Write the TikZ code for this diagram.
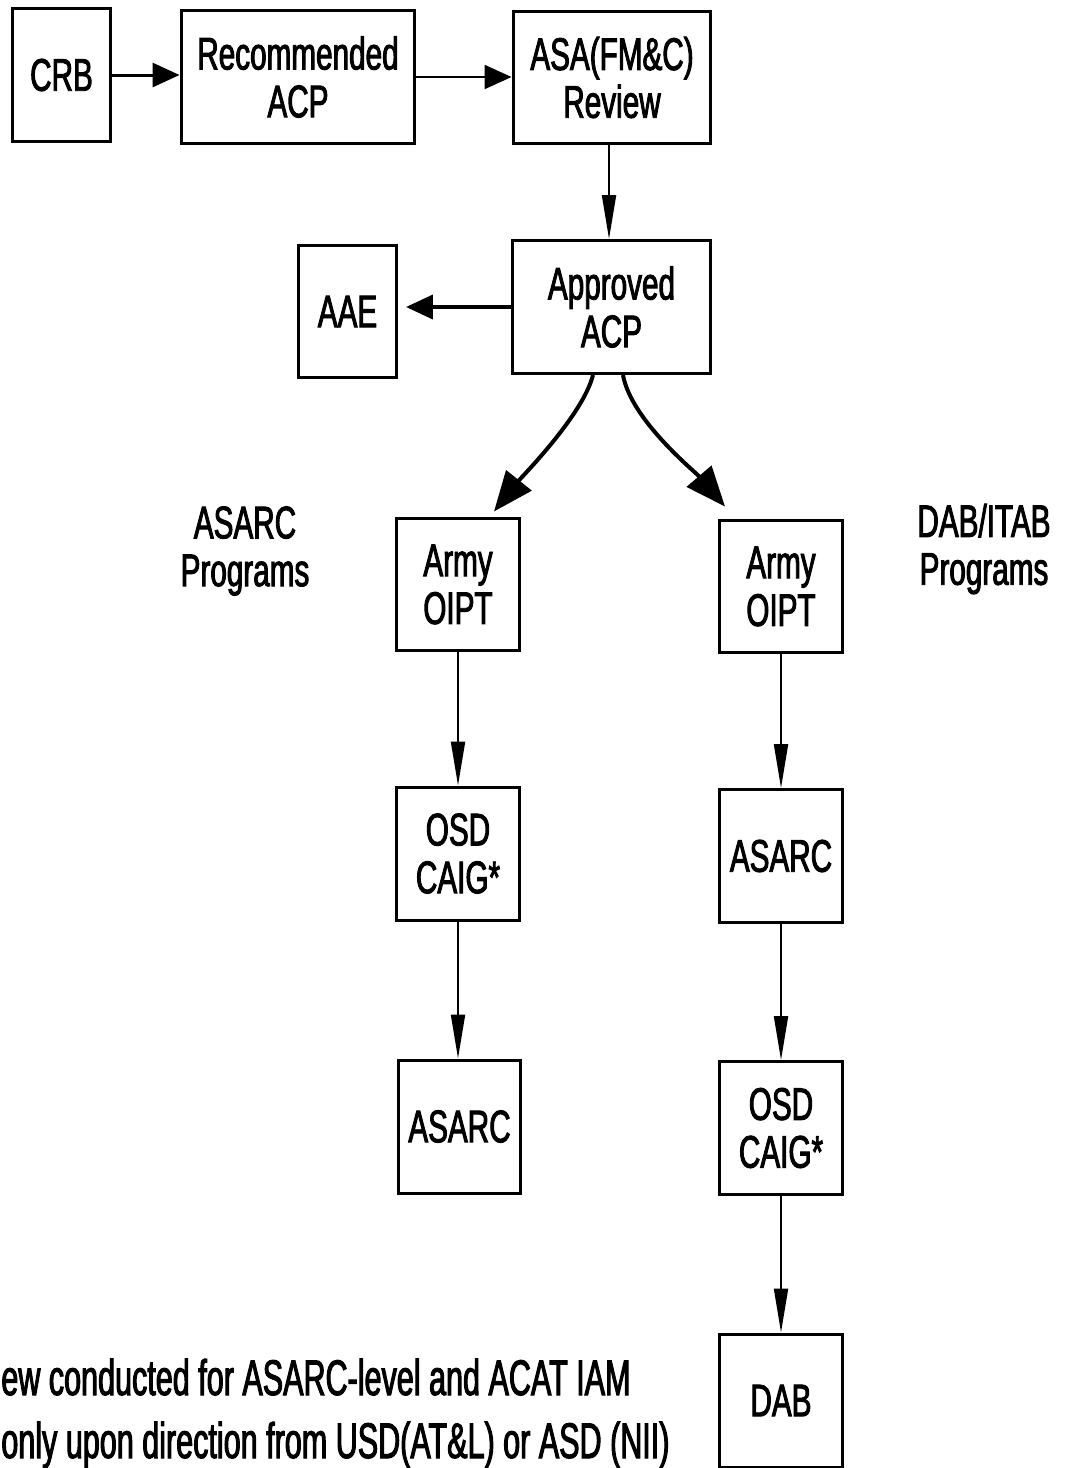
\documentclass[tikz,border=0pt]{standalone}
\usepackage{fontspec}
\setmainfont{Liberation Sans}[FakeStretch=0.65,FakeBold=2]
\newfontfamily\notafont{Liberation Sans}[FakeStretch=0.61,FakeBold=2]
\usetikzlibrary{arrows.meta}

\begin{document}
\begin{tikzpicture}[x=0.02cm,y=-0.02cm,
        font=\fontsize{26}{27.2}\selectfont,
        caja/.style={draw,line width=0.06cm,inner sep=0pt,align=center,
                     minimum width=2.46cm,minimum height=2.66cm},
        nota/.style={anchor=base west,inner sep=0pt,font=\notafont\fontsize{28.5}{30}\selectfont},
        flecha/.style={line width=0.04cm,-{Triangle[length=0.88cm,width=0.28cm]}},
        flechah/.style={line width=0.05cm,-{Triangle[length=0.54cm,width=0.48cm]}},
        flechacurva/.style={line width=0.08cm,-{Triangle[length=0.8cm,width=0.64cm]}}]
        % Paso 1: Fija el marco de la figura (en pixeles)
        \useasboundingbox (0,0) rectangle (1066,1468);

        % Paso 2: Cajas de la fila superior
        \node[caja,minimum width=1.98cm] (CRB) at (61.5,75) {CRB};
        \node[caja,minimum width=4.68cm] (REC) at (298,77) {Recommended\\ACP};
        \node[caja,minimum width=3.96cm] (ASA) at (612,77.5) {ASA(FM\&C)\\Review};

        % Paso 3: ACP aprobado y AAE
        \node[caja,minimum width=3.98cm] (APR) at (611.5,307) {Approved\\ACP};
        \node[caja,minimum width=1.98cm] (AAE) at (347.5,311.5) {AAE};

        % Paso 4: Rama izquierda (programas ASARC)
        \node[caja] (OIPTI) at (458,584.5) {Army\\OIPT};
        \node[caja] (CAIGI) at (458,853.5) {OSD\\CAIG*};
        \node[caja] (ASARCI) at (459.5,1126.5) {ASARC};

        % Paso 5: Rama derecha (programas DAB/ITAB)
        \node[caja] (OIPTD) at (781,586.5) {Army\\OIPT};
        \node[caja] (ASARCD) at (781,856) {ASARC};
        \node[caja] (CAIGD) at (781,1128) {OSD\\CAIG*};
        \node[caja] (DAB) at (781,1400.5) {DAB};

        % Paso 6: Leyendas de cada rama y nota al pie
        \node[align=center,inner sep=0pt] (ETQI) at (245,551) {ASARC\\Programs};
        \node[align=center,inner sep=0pt] (ETQD) at (984,549) {DAB/ITAB\\Programs};
        \node[nota] (NOTA1) at (1,1395) {ew conducted for ASARC-level and ACAT IAM};
        \node[nota] (NOTA2) at (1,1458) {only upon direction from USD(AT\&L) or ASD (NII)};

        % Paso 7: Flechas de la fila superior
        \draw[flechah,line width=0.06cm] (CRB.east) -- (CRB.east -| REC.west);
        \draw[flechah,line width=0.045cm] (REC.east) -- (REC.east -| ASA.west);
        \draw[flecha] ([xshift=-0.06cm]ASA.south) -- ([xshift=-0.06cm]ASA.south |- APR.north);
        \draw[flechah,line width=0.08cm,shorten >=0.15cm] (APR.west) -- (APR.west -| AAE.east);

        % Paso 8: Flechas curvas hacia ambas ramas
        \draw[flechacurva] ([xshift=-0.37cm]APR.south) .. controls +(-10,40) and +(28,-35)
              .. ([xshift=-0.54cm,yshift=0.1cm]OIPTI.north east);
        \draw[flechacurva] ([xshift=0.23cm]APR.south) .. controls +(8,45) and +(-30,-35)
              .. ([xshift=0.14cm,yshift=0.24cm]OIPTD.north west);

        % Paso 9: Flechas verticales entre cajas
        \foreach \a/\b in {OIPTI/CAIGI,CAIGI/ASARCI,OIPTD/ASARCD,ASARCD/CAIGD,CAIGD/DAB}
              {\draw[flecha] (\a.south) -- (\a.south |- \b.north);}
    \end{tikzpicture}
\end{document}
